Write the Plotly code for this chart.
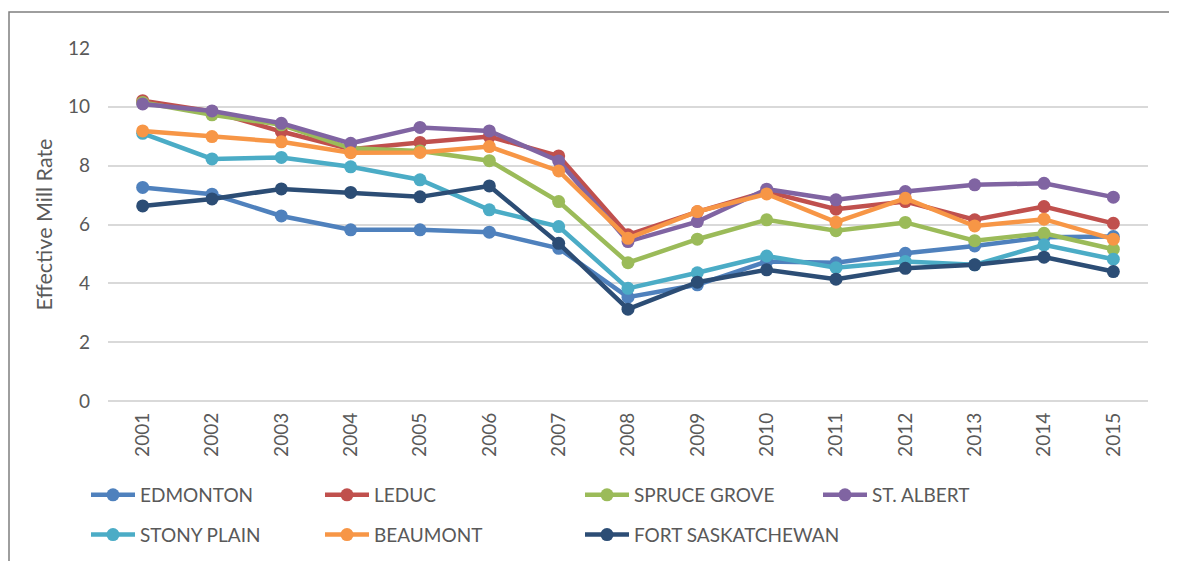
import plotly.graph_objects as go

years = [str(y) for y in range(2001, 2016)]

edmonton = [7.26, 7.03, 6.29, 5.82, 5.82, 5.74, 5.19, 3.53, 3.95, 4.74, 4.70, 5.02, 5.27, 5.57, 5.59]
leduc = [10.21, 9.84, 9.16, 8.56, 8.79, 8.99, 8.33, 5.65, 6.43, 7.12, 6.52, 6.78, 6.16, 6.61, 6.04]
spruce_grove = [10.15, 9.73, 9.39, 8.59, 8.50, 8.17, 6.78, 4.70, 5.50, 6.16, 5.79, 6.07, 5.45, 5.70, 5.16]
st_albert = [10.10, 9.86, 9.44, 8.76, 9.30, 9.18, 8.16, 5.42, 6.10, 7.20, 6.84, 7.12, 7.35, 7.40, 6.93]
stony_plain = [9.10, 8.23, 8.28, 7.96, 7.52, 6.50, 5.93, 3.83, 4.36, 4.93, 4.53, 4.74, 4.63, 5.31, 4.82]
beaumont = [9.18, 8.99, 8.81, 8.44, 8.45, 8.65, 7.82, 5.53, 6.44, 7.04, 6.08, 6.89, 5.95, 6.18, 5.50]
fort_sask = [6.63, 6.87, 7.21, 7.09, 6.94, 7.31, 5.36, 3.12, 4.04, 4.46, 4.14, 4.51, 4.63, 4.89, 4.40]

# (name, values, colour, legend column)
series = [
    ("EDMONTON", edmonton, "#4F81BD", "legend"),
    ("LEDUC", leduc, "#C0504D", "legend2"),
    ("SPRUCE GROVE", spruce_grove, "#9BBB59", "legend3"),
    ("ST. ALBERT", st_albert, "#8064A2", "legend4"),
    ("STONY PLAIN", stony_plain, "#4BACC6", "legend"),
    ("BEAUMONT", beaumont, "#F79646", "legend2"),
    ("FORT SASKATCHEWAN", fort_sask, "#2C4D75", "legend3"),
]

font_family = "Lato, 'Open Sans', sans-serif"
grey = "#595959"

# page geometry (html body adds an 8px offset)
OFF = 8
W, H = 1177 - OFF, 561 - OFF
PX0, PX1, PY0, PY1 = 108, 1148, 48, 401


def px_to_paper_x(px):
    return (px - PX0) / (PX1 - PX0)


def px_to_paper_y(py):
    return (PY1 - py) / (PY1 - PY0)


fig = go.Figure()
for name, vals, color, lg in series:
    fig.add_trace(go.Scatter(
        x=years, y=vals, name=name, mode="lines+markers",
        line=dict(color=color, width=4.5),
        marker=dict(color=color, size=13),
        legend=lg, legendgroup=name,
    ))

legend_common = dict(
    orientation="v", xanchor="left", yanchor="top",
    font=dict(family=font_family, size=19, color=grey),
    bgcolor="rgba(0,0,0,0)", tracegroupgap=12, itemwidth=44,
    y=px_to_paper_y(476),
)

fig.update_layout(
    width=W, height=H,
    margin=dict(l=PX0 - OFF, r=OFF + W - PX1, t=PY0 - OFF, b=OFF + H - PY1,
                autoexpand=False),
    paper_bgcolor="white", plot_bgcolor="white",
    font=dict(family=font_family, size=19, color=grey),
    showlegend=True,
    legend=dict(x=px_to_paper_x(86), **legend_common),
    legend2=dict(x=px_to_paper_x(320), **legend_common),
    legend3=dict(x=px_to_paper_x(580), **legend_common),
    legend4=dict(x=px_to_paper_x(818), **legend_common),
    xaxis=dict(
        type="category", range=[-0.5, 14.5],
        tickangle=-90, showgrid=False, showline=False, zeroline=False,
        tickfont=dict(family=font_family, size=19, color=grey),
        ticks="", ticklabelstandoff=7, automargin=False,
    ),
    yaxis=dict(
        range=[0, 12], dtick=2, tick0=0,
        showgrid=True, gridcolor="#D9D9D9", gridwidth=1.5,
        zeroline=True, zerolinecolor="#D9D9D9", zerolinewidth=1.5,
        showline=False, ticks="", ticklabelstandoff=17, automargin=False,
        tickfont=dict(family=font_family, size=19, color=grey),
        title=dict(text="Effective Mill Rate", standoff=9,
                   font=dict(family=font_family, size=21.5, color=grey)),
    ),
    shapes=[dict(
        type="rect", xref="paper", yref="paper",
        x0=px_to_paper_x(9), x1=px_to_paper_x(1200),
        y0=px_to_paper_y(600), y1=px_to_paper_y(12),
        line=dict(color="#7F7F7F", width=1.5), fillcolor="rgba(0,0,0,0)",
        layer="below",
    )],
)

fig.write_html("out.html")
